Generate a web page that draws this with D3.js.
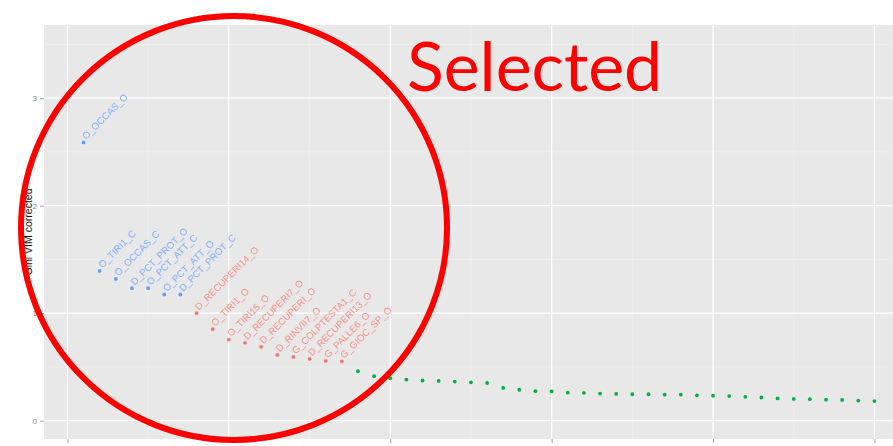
<!DOCTYPE html>
<html>
<head>
<meta charset="utf-8">
<script src="https://cdn.jsdelivr.net/npm/d3@7"></script>
<style>
  html, body { margin: 0; padding: 0; background: #fff; overflow: hidden; }
  svg { display: block; }
</style>
</head>
<body>
<svg id="chart" width="893" height="446"></svg>
<script>
// Variable importance (corrected Gini VIM), ranked, with cluster assignment
const variables = [
  "O_OCCAS_O", "O_TIRI1_C", "O_OCCAS_C", "D_PCT_PROT_O", "O_PCT_ATT_C",
  "O_PCT_ATT_O", "D_PCT_PROT_C", "D_RECUPERI14_O", "O_TIRI1_O", "O_TIRI15_O",
  "D_RECUPERI7_O", "D_RECUPERI_O", "D_RINVII7_O", "G_COLPTESTA1_C", "D_RECUPERI13_O",
  "G_PALLE6_O", "G_GIOC_SP_O"
];
const giniVIM = [
  2.588, 1.393, 1.319, 1.233, 1.233, 1.174, 1.174, 1.000, 0.851, 0.755,
  0.724, 0.687, 0.612, 0.593, 0.575, 0.556, 0.551, 0.460, 0.414, 0.395,
  0.383, 0.374, 0.370, 0.364, 0.357, 0.351, 0.305, 0.288, 0.275, 0.272,
  0.262, 0.259, 0.252, 0.249, 0.246, 0.246, 0.243, 0.243, 0.236, 0.233,
  0.229, 0.222, 0.216, 0.207, 0.203, 0.200, 0.196, 0.193, 0.187, 0.183
];
const cluster = [
  3, 3, 3, 3, 3, 3, 3, 1, 1, 1, 1, 1, 1, 1, 1, 1, 1,
  2, 2, 2, 2, 2, 2, 2, 2, 2, 2, 2, 2, 2, 2, 2, 2, 2, 2, 2, 2,
  2, 2, 2, 2, 2, 2, 2, 2, 2, 2, 2, 2, 2
];
const xTicks = [0, 10, 20, 30, 40, 50];
const yTicks = [0, 1, 2, 3];
const yLabel = "Gini VIM corrected";
const highlightText = "Selected";

const clusterColor = d3.scaleOrdinal().domain([1, 2, 3]).range(["#F8766D", "#00B040", "#619CFF"]);

const svg = d3.select("#chart");
const panel = { left: 44, right: 914, top: 25, bottom: 439 };

const x = d3.scaleLinear().domain([-1.45, 52.45]).range([panel.left, panel.right]);
const y = d3.scaleLinear().domain([-0.17, 3.68]).range([panel.bottom, panel.top]);

// panel background
svg.append("rect")
  .attr("x", panel.left).attr("y", panel.top)
  .attr("width", panel.right - panel.left).attr("height", panel.bottom - panel.top)
  .attr("fill", "#E8E8E8");

// minor grid
const grid = svg.append("g");
const xMinor = xTicks.slice(0, -1).map((d, i) => (d + xTicks[i + 1]) / 2).concat([-5, 55]);
const yMinor = [0.5, 1.5, 2.5, 3.5];
grid.selectAll(".xminor").data(xMinor).join("line")
  .attr("x1", d => x(d)).attr("x2", d => x(d))
  .attr("y1", panel.top).attr("y2", panel.bottom)
  .attr("stroke", "#F1F1F1").attr("stroke-width", 0.6);
grid.selectAll(".yminor").data(yMinor).join("line")
  .attr("x1", panel.left).attr("x2", panel.right)
  .attr("y1", d => y(d)).attr("y2", d => y(d))
  .attr("stroke", "#F1F1F1").attr("stroke-width", 0.6);
// major grid
grid.selectAll(".xmajor").data(xTicks).join("line")
  .attr("x1", d => x(d)).attr("x2", d => x(d))
  .attr("y1", panel.top).attr("y2", panel.bottom)
  .attr("stroke", "#FFFFFF").attr("stroke-width", 1.2);
grid.selectAll(".ymajor").data(yTicks).join("line")
  .attr("x1", panel.left).attr("x2", panel.right)
  .attr("y1", d => y(d)).attr("y2", d => y(d))
  .attr("stroke", "#FFFFFF").attr("stroke-width", 1.2);

// axes
const yAxis = svg.append("g")
  .attr("transform", `translate(${panel.left},0)`)
  .call(d3.axisLeft(y).tickValues(yTicks).tickSize(4).tickPadding(3).tickFormat(d3.format("d")));
const xAxis = svg.append("g")
  .attr("transform", `translate(0,${panel.bottom})`)
  .call(d3.axisBottom(x).tickValues(xTicks).tickSize(4).tickPadding(2).tickFormat(d3.format("d")));
[xAxis, yAxis].forEach(g => {
  g.select(".domain").remove();
  g.selectAll(".tick line").attr("stroke", "#8A8A8A").attr("stroke-width", 0.8);
  g.selectAll(".tick text")
    .attr("fill", "#8A8A8A")
    .style("font-family", "'Liberation Sans', Arial, sans-serif")
    .style("font-size", "8px");
});

// y axis title
svg.append("text")
  .attr("transform", `translate(32,${(panel.top + panel.bottom) / 2}) rotate(-90)`)
  .attr("text-anchor", "middle")
  .style("font-family", "'Liberation Sans', Arial, sans-serif")
  .style("font-size", "10.5px")
  .attr("fill", "#111")
  .text(yLabel);

// points
const data = giniVIM.map((v, i) => ({ rank: i + 1, value: v, cluster: cluster[i], name: variables[i] || "" }));
svg.append("g").selectAll("circle").data(data).join("circle")
  .attr("cx", d => x(d.rank))
  .attr("cy", d => y(d.value))
  .attr("r", 1.9)
  .attr("fill", d => clusterColor(d.cluster));

// labels for the leading variables, rotated 45 degrees
svg.append("g").selectAll("text").data(data.filter(d => d.name)).join("text")
  .attr("transform", d => `translate(${x(d.rank) + 2.5},${y(d.value) - 2.5}) rotate(-45)`)
  .attr("text-anchor", "start")
  .style("font-family", "'Liberation Sans', Arial, sans-serif")
  .style("font-size", "9.6px")
  .attr("fill", d => clusterColor(d.cluster))
  .attr("fill-opacity", 0.8)
  .text(d => d.name);

// highlight annotation
svg.append("ellipse")
  .attr("cx", 234).attr("cy", 228)
  .attr("rx", 213).attr("ry", 212)
  .attr("fill", "none")
  .attr("stroke", "#FF0000")
  .attr("stroke-width", 6);

svg.append("text")
  .attr("x", 407).attr("y", 91)
  .style("font-family", "Lato, 'Open Sans', sans-serif")
  .style("font-size", "68px")
  .attr("fill", "#FF0000")
  .text(highlightText);
</script>
</body>
</html>
